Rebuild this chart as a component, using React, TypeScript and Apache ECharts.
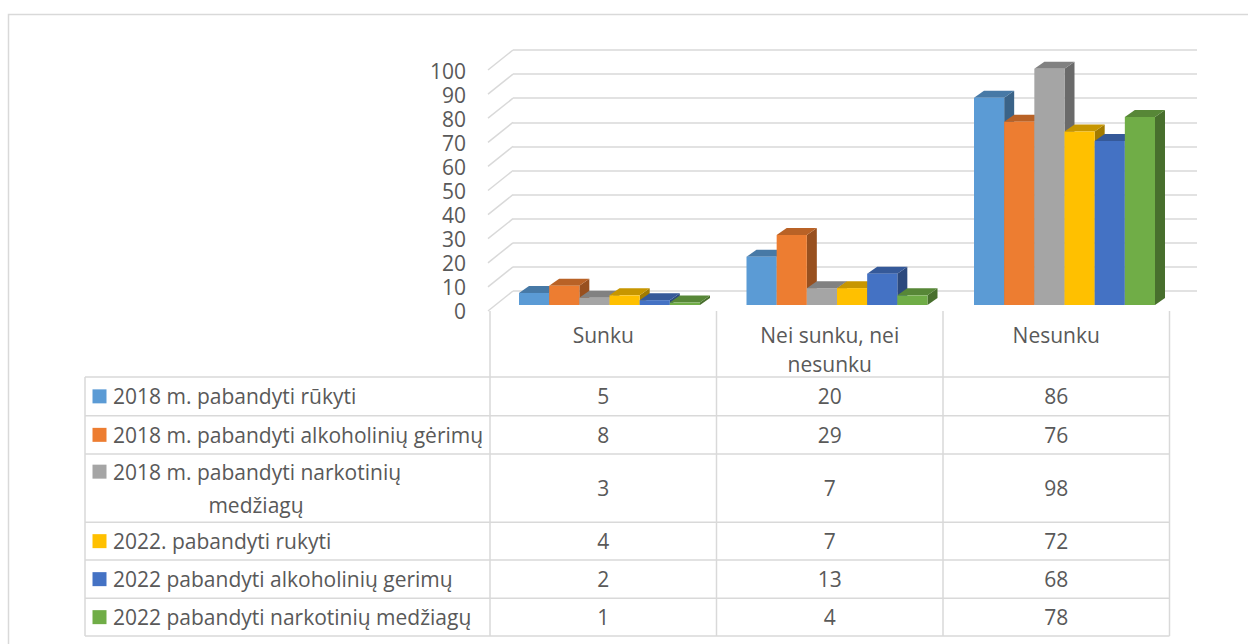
import React, { useEffect, useRef } from 'react';
import * as echarts from 'echarts';

// ---- data ----
const categories = ['Sunku', 'Nei sunku, nei nesunku', 'Nesunku'];
const categoryLines = [['Sunku'], ['Nei sunku, nei', 'nesunku'], ['Nesunku']];
const seriesNames = [
  '2018 m. pabandyti rūkyti',
  '2018 m. pabandyti alkoholinių gėrimų',
  '2018 m. pabandyti narkotinių medžiagų',
  '2022. pabandyti rukyti',
  '2022 pabandyti alkoholinių gerimų',
  '2022 pabandyti narkotinių medžiagų',
];
const seriesLines = [
  ['2018 m. pabandyti rūkyti'],
  ['2018 m. pabandyti alkoholinių gėrimų'],
  ['2018 m. pabandyti narkotinių', 'medžiagų'],
  ['2022. pabandyti rukyti'],
  ['2022 pabandyti alkoholinių gerimų'],
  ['2022 pabandyti narkotinių medžiagų'],
];
const smoke2018 = [5, 20, 86];
const alcohol2018 = [8, 29, 76];
const drugs2018 = [3, 7, 98];
const smoke2022 = [4, 7, 72];
const alcohol2022 = [2, 13, 68];
const drugs2022 = [1, 4, 78];
const seriesValues = [smoke2018, alcohol2018, drugs2018, smoke2022, alcohol2022, drugs2022];
const valueTicks = [0, 10, 20, 30, 40, 50, 60, 70, 80, 90, 100];

// ---- styles ----
const frontColors = ['#5B9BD5', '#ED7D31', '#A5A5A5', '#FFC000', '#4472C4', '#70AD47'];
const TEXT = '#595959';
const LINE = '#d9d9d9';
const FONT = '"Open Sans", "Noto Sans", sans-serif';
const FS = 21;

function shade(hex: string, f: number) {
  const n = parseInt(hex.slice(1), 16);
  const r = Math.round(((n >> 16) & 255) * f);
  const g = Math.round(((n >> 8) & 255) * f);
  const b = Math.round((n & 255) * f);
  return `rgb(${r},${g},${b})`;
}

const DX = 10;
const DY = 7;

// table layout
const rowEdges = [377, 415.7, 454, 522.3, 560, 598.3, 636];
const colEdges = [490, 716.5, 943, 1169.5];
const tableLeft = 85;
const headerTop = 311;

export default function App() {
  const ref = useRef<HTMLDivElement>(null);
  useEffect(() => {
    document.body.style.margin = '0';
    const chart = echarts.init(ref.current!, null, { renderer: 'svg' });

    const barSeries = seriesValues.map((vals, k) => ({
      type: 'custom',
      name: seriesNames[k],
      xAxisIndex: 1,
      yAxisIndex: 1,
      clip: false,
      data: vals.map((v, i) => [i, v]),
      encode: { x: 0, y: 1 },
      renderItem: (params: any, api: any) => {
        const cat = api.value(0);
        const v = api.value(1);
        const band = api.size([1, 0])[0];
        const groupW = band * 0.7956;
        const bw = groupW / 6;
        const c = api.coord([cat, v]);
        const b = api.coord([cat, 0]);
        const x0 = c[0] - groupW / 2 + k * bw;
        const x1 = x0 + bw;
        const yt = c[1];
        const yb = b[1];
        const front = frontColors[k];
        return {
          type: 'group',
          children: [
            {
              type: 'polygon',
              shape: { points: [[x1, yb], [x1 + DX, yb - DY], [x1 + DX, yt - DY], [x1, yt]] },
              style: { fill: shade(front, 0.64) },
            },
            {
              type: 'polygon',
              shape: { points: [[x0, yt], [x1, yt], [x1 + DX, yt - DY], [x0 + DX, yt - DY]] },
              style: { fill: shade(front, 0.78) },
            },
            {
              type: 'rect',
              shape: { x: x0, y: yt, width: bw, height: yb - yt },
              style: { fill: front },
            },
          ],
        };
      },
    }));

    const diagSeries = {
      type: 'custom',
      xAxisIndex: 0,
      yAxisIndex: 0,
      clip: false,
      silent: true,
      data: valueTicks.map((v) => [0, v]),
      encode: { x: 0, y: 1 },
      renderItem: (params: any, api: any) => {
        const p = api.coord([0, api.value(1)]);
        return {
          type: 'line',
          shape: { x1: p[0], y1: p[1], x2: p[0] - 25, y2: p[1] + 20 },
          style: { stroke: LINE, lineWidth: 1.5 },
        };
      },
    };

    // ---- table graphics ----
    const g: any[] = [];
    g.push({
      type: 'rect',
      shape: { x: 8.5, y: 14.5, width: 1300, height: 700 },
      style: { fill: 'none', stroke: LINE, lineWidth: 1.5 },
      silent: true,
    });
    rowEdges.forEach((y) => {
      g.push({
        type: 'line',
        shape: { x1: tableLeft, y1: y, x2: colEdges[colEdges.length - 1], y2: y },
        style: { stroke: LINE, lineWidth: 1.5 },
      });
    });
    g.push({
      type: 'line',
      shape: { x1: tableLeft, y1: rowEdges[0], x2: tableLeft, y2: rowEdges[rowEdges.length - 1] },
      style: { stroke: LINE, lineWidth: 1.5 },
    });
    colEdges.forEach((x) => {
      g.push({
        type: 'line',
        shape: { x1: x, y1: headerTop, x2: x, y2: rowEdges[rowEdges.length - 1] },
        style: { stroke: LINE, lineWidth: 1.5 },
      });
    });
    categoryLines.forEach((lines, ci) => {
      const cx = (colEdges[ci] + colEdges[ci + 1]) / 2;
      lines.forEach((t, li) => {
        g.push({
          type: 'text',
          x: cx,
          y: 335 + li * 29,
          style: { text: t, fill: TEXT, fontSize: FS, fontFamily: FONT, textAlign: 'center', textVerticalAlign: 'middle' },
        });
      });
    });
    seriesLines.forEach((lines, si) => {
      const top = rowEdges[si];
      const bottom = rowEdges[si + 1];
      const mid = (top + bottom) / 2;
      const firstY = lines.length === 1 ? mid : mid - 16.5;
      g.push({
        type: 'rect',
        shape: { x: 92.5, y: firstY - 7, width: 14, height: 14 },
        style: { fill: frontColors[si] },
      });
      lines.forEach((t, li) => {
        g.push({
          type: 'text',
          x: li === 0 ? 113 : 256,
          y: firstY + li * 33,
          style: {
            text: t,
            fill: TEXT,
            fontSize: FS,
            fontFamily: FONT,
            textAlign: li === 0 ? 'left' : 'center',
            textVerticalAlign: 'middle',
          },
        });
      });
      seriesValues[si].forEach((v, ci) => {
        const cx = (colEdges[ci] + colEdges[ci + 1]) / 2;
        g.push({
          type: 'text',
          x: cx,
          y: mid,
          style: { text: String(v), fill: TEXT, fontSize: FS, fontFamily: FONT, textAlign: 'center', textVerticalAlign: 'middle' },
        });
      });
    });

    const option: any = {
      animation: false,
      backgroundColor: '#ffffff',
      textStyle: { fontFamily: FONT },
      grid: [
        { left: 513, width: 684, top: 50, height: 241 },
        { left: 495.75, width: 682.5, top: 64, height: 241 },
        { left: 489, width: 681, top: 71, height: 240 },
      ],
      xAxis: [
        { type: 'value', gridIndex: 0, min: 0, max: 1, show: false },
        { type: 'category', gridIndex: 1, data: categories, show: false },
        { type: 'category', gridIndex: 2, data: categories, show: false },
      ],
      yAxis: [
        {
          type: 'value',
          gridIndex: 0,
          min: 0,
          max: 100,
          interval: 10,
          axisLabel: { show: false },
          axisLine: { show: false },
          axisTick: { show: false },
          splitLine: { show: true, lineStyle: { color: LINE, width: 1.5 } },
        },
        { type: 'value', gridIndex: 1, min: 0, max: 100, interval: 10, show: false },
        {
          type: 'value',
          gridIndex: 2,
          min: 0,
          max: 100,
          interval: 10,
          axisLabel: {
            show: true,
            color: TEXT,
            fontSize: FS,
            fontFamily: FONT,
            lineHeight: 20,
            margin: 23,
            formatter: (v: number) => (valueTicks.includes(v) ? String(v) : ''),
          },
          axisLine: { show: false },
          axisTick: { show: false },
          splitLine: { show: false },
        },
      ],
      series: [diagSeries, ...barSeries],
      graphic: g,
    };
    chart.setOption(option);
    return () => chart.dispose();
  }, []);
  return <div ref={ref} style={{ position: 'fixed', left: 0, top: 0, width: 1248, height: 644 }} />;
}
